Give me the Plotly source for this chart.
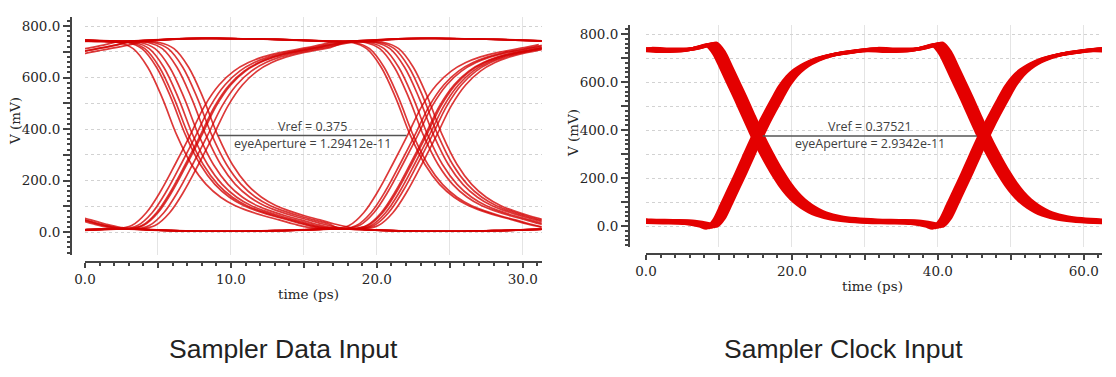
import plotly.graph_objects as go

# page body has an 8 px margin: the figure is drawn 8 px in from the window corner
OX, OY = 8, 8
WF, HF = 1108, 369

# ---------------- Sampler Data Input (eye diagram), values in ps / mV ----------------
cell_u = [0, 1, 2, 3, 4, 5, 6, 7, 8, 9, 10, 11, 12, 13, 14]   # ps from cell start, crossing at u = 5
cell_stay_high = [740, 743, 746, 749, 751, 752, 752, 751, 750, 749, 748, 746, 744, 742, 740]
cell_stay_low = [12, 10, 7, 5, 4, 3, 3, 3, 3, 4, 5, 6, 8, 10, 12]
cell_fall = [740, 736, 712, 640, 520, 375, 262, 185, 135, 102, 80, 62, 47, 31, 18]
cell_rise = [12, 25, 75, 160, 265, 375, 490, 572, 625, 658, 680, 695, 706, 716, 728]
data_cross_nominal = [-7.0, 8.0, 23.0]
data_bits = ["1111", "1111", "1111", "0000", "0000", "0000",
             "1101", "1100", "0101", "1101", "0100", "1101", "0101", "1100",
             "0010", "1011", "0010", "1010", "0011", "1010",
             "1110", "0001", "0110", "1001", "0001", "1110"]
data_shift1 = [0.0, 0.3, -0.3, 0.0, 0.4, -0.4,
               -1.7, -1.1, -0.6, -0.2, 0.3, 0.7, 1.1, -0.9,
               -0.8, -0.4, 0.0, 0.4, 0.8, -0.1,
               0.0, 0.0, 0.2, 0.0, 0.0, 0.0]
data_shift2 = [0.0, 0.3, 0.5, 0.0, 0.2, -0.2,
               -0.9, 0.0, 0.3, 1.1, 0.0, -0.4, 0.6, 0.0,
               -0.7, 0.0, 0.2, 0.9, 0.0, 1.5,
               -0.5, -0.2, 0.5, 0.8, 0.4, 1.2]
data_vref = 375.0            # mV
data_aperture_start = 9.1    # ps
data_aperture = 12.9412      # ps
data_xticks = [0, 5, 10, 15, 20, 25, 30]
data_xtick_text = ["0.0", "", "10.0", "", "20.0", "", "30.0"]

# ---------------- Sampler Clock Input ----------------
clk_t = [0, 3, 6, 8, 9, 10, 11, 12, 13, 14, 15, 16, 17, 18, 19, 20, 21, 22, 23, 24, 26, 28, 31]
clk_fall_mv = [735, 732, 736, 750, 757, 722, 660, 595, 530, 462, 395, 332, 275, 222, 175, 136,
               105, 82, 64, 50, 34, 26, 21]
clk_rise_mv = [20, 18, 15, 5, -4, 28, 90, 155, 220, 288, 355, 418, 476, 532, 585, 625,
               653, 673, 688, 700, 716, 725, 733]
clk_half_period = 31.0
clk_jitter = [-0.7, -0.35, 0.0, 0.35, 0.7]
clk_level = [-4, -2, 0, 2, 4]
clk_vref = 375.21
clk_aperture_start = 16.0
clk_aperture = 29.342
clk_xticks = [0, 10, 20, 30, 40, 50, 60]
clk_xtick_text = ["0.0", "", "20.0", "", "40.0", "", "60.0"]

yticks = [0, 100, 200, 300, 400, 500, 600, 700, 800]
ytick_text = ["0.0", "", "200.0", "", "400.0", "", "600.0", "", "800.0"]

RED_DATA = "rgba(212,0,0,0.78)"
RED_CLK = "rgb(228,0,0)"
AXIS = "#444444"
TICKFONT = dict(family="DejaVu Serif", size=13.5, color="#262626")
NOTEFONT = dict(family="Open Sans", size=12.5, color="#404040")


def PX(x):
    return (x - OX) / WF


def PY(y):
    return 1 - (y - OY) / HF


fig = go.Figure()

# ---- eye traces ----
cells = {("1", "1"): cell_stay_high, ("0", "0"): cell_stay_low,
         ("1", "0"): cell_fall, ("0", "1"): cell_rise}
cross_u = cell_u[5]
for bits, s1, s2 in zip(data_bits, data_shift1, data_shift2):
    crossings = [data_cross_nominal[0] + s1, data_cross_nominal[1] + s1, data_cross_nominal[2] + s2]
    xs, ys = [], []
    for k in range(3):
        vals = cells[(bits[k], bits[k + 1])]
        start = crossings[k] - cross_u
        nxt = crossings[k + 1] - cross_u if k < 2 else None
        for u, v in zip(cell_u, vals):
            x = start + u
            if nxt is not None and x > nxt - 0.3:
                continue
            xs.append(x)
            ys.append(v)
    fig.add_trace(go.Scatter(x=xs, y=ys, mode="lines", xaxis="x", yaxis="y",
                             line=dict(color=RED_DATA, width=1.7, shape="spline", smoothing=1.0),
                             showlegend=False, hoverinfo="skip"))

fig.add_trace(go.Scatter(x=[data_aperture_start, data_aperture_start + data_aperture],
                         y=[data_vref, data_vref], mode="lines", xaxis="x", yaxis="y",
                         line=dict(color="#555555", width=1.5), showlegend=False, hoverinfo="skip"))

# ---- clock traces ----
for seq in (("rise", "fall", "rise", "fall"), ("fall", "rise", "fall", "rise")):
    for j, dv in zip(clk_jitter, clk_level):
        xs, ys = [], []
        for k, kind in enumerate(seq):
            vals = clk_fall_mv if kind == "fall" else clk_rise_mv
            off = (k - 1) * clk_half_period + j
            for t, v in zip(clk_t[:-1], vals[:-1]):
                xs.append(t + off)
                ys.append(v + dv)
        fig.add_trace(go.Scatter(x=xs, y=ys, mode="lines", xaxis="x2", yaxis="y2",
                                 line=dict(color=RED_CLK, width=3.5, shape="spline", smoothing=0.8),
                                 showlegend=False, hoverinfo="skip"))

fig.add_trace(go.Scatter(x=[clk_aperture_start, clk_aperture_start + clk_aperture],
                         y=[clk_vref, clk_vref], mode="lines", xaxis="x2", yaxis="y2",
                         line=dict(color="#555555", width=1.5), showlegend=False, hoverinfo="skip"))


def xax(dom, rng, pos, tv, tt, minor_dt):
    return dict(domain=dom, range=rng, anchor="free", position=pos, automargin=False,
                tickmode="array", tickvals=tv, ticktext=tt, ticks="outside", ticklen=5,
                tickwidth=1.5, tickcolor=AXIS, showline=True, linecolor=AXIS, linewidth=2,
                showgrid=True, gridcolor="#e4e4e4", gridwidth=1, zeroline=False,
                tickfont=TICKFONT,
                minor=dict(dtick=minor_dt, ticks="outside", ticklen=3, tickcolor=AXIS, showgrid=False))


def yax(dom, rng, pos):
    return dict(domain=dom, range=rng, anchor="free", position=pos, automargin=False,
                tickmode="array", tickvals=yticks, ticktext=ytick_text, ticks="outside", ticklen=7,
                tickwidth=1.5, tickcolor=AXIS, showline=True, linecolor=AXIS, linewidth=2,
                showgrid=True, gridcolor="#d2d2d2", griddash="dot", gridwidth=1, zeroline=False,
                tickfont=TICKFONT,
                minor=dict(dtick=20, ticks="outside", ticklen=3, tickcolor=AXIS, showgrid=False))


fig.update_layout(
    width=WF, height=HF, margin=dict(l=0, r=0, t=0, b=0, autoexpand=False),
    paper_bgcolor="white", plot_bgcolor="white",
    xaxis=xax([PX(85), PX(541.7)], [0, 31.3], PY(262), data_xticks, data_xtick_text, 1),
    yaxis=yax([PY(255), PY(17)], [-89.3, 835], PX(71)),
    xaxis2=xax([PX(646), PX(1102)], [0, 62.5], PY(254), clk_xticks, clk_xtick_text, 2),
    yaxis2=yax([PY(247), PY(25)], [-87.5, 837.5], PX(629)),
    shapes=[dict(type="rect", xref="paper", yref="paper", x0=PX(1108), x1=1, y0=0, y1=1,
                 fillcolor="#ededed", line=dict(width=0), layer="below")],
)

ann = []
for xr, yr, start, ap, vref in (("x", "y", data_aperture_start, data_aperture, data_vref),
                                ("x2", "y2", clk_aperture_start, clk_aperture, clk_vref)):
    mid = start + ap / 2
    ann.append(dict(xref=xr, yref=yr, x=mid, y=vref, yshift=9, showarrow=False,
                    xanchor="center", yanchor="middle",
                    text=f"Vref = {vref / 1000:g}", font=NOTEFONT))
    ann.append(dict(xref=xr, yref=yr, x=mid, y=vref, yshift=-8, showarrow=False,
                    xanchor="center", yanchor="middle",
                    text=f"eyeAperture = {ap * 1e-12:g}", font=NOTEFONT))

for x, y in ((308, 294), (872, 286)):
    ann.append(dict(xref="paper", yref="paper", x=PX(x), y=PY(y), showarrow=False,
                    xanchor="center", yanchor="middle", text="time (ps)", font=TICKFONT))
for x, y in ((15, 121), (573, 133)):
    ann.append(dict(xref="paper", yref="paper", x=PX(x), y=PY(y), showarrow=False,
                    xanchor="center", yanchor="middle",
                    text="V (mV)", textangle=-90, font=TICKFONT))
for x, txt in ((283, "Sampler Data Input"), (843, "Sampler Clock Input")):
    ann.append(dict(xref="paper", yref="paper", x=PX(x), y=PY(349), showarrow=False,
                    xanchor="center", yanchor="middle",
                    text=txt, font=dict(family="Liberation Sans", size=26.5, color="#222222")))
fig.update_layout(annotations=ann)

fig.write_html("out.html")
